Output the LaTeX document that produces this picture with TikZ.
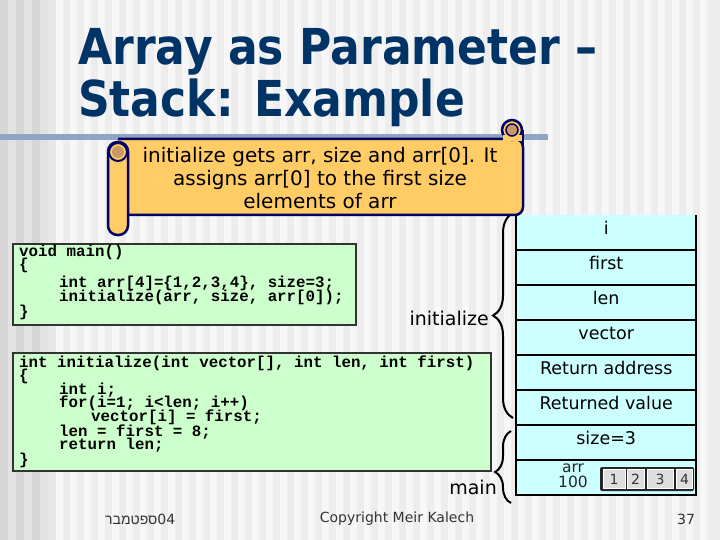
\documentclass[tikz,border=0pt]{standalone}
\usepackage{fontspec}
\setmainfont{DejaVu Sans}
\newfontfamily\codefont{Liberation Mono}
\newfontfamily\hebfont[Script=Hebrew]{Liberation Sans}
\TeXXeTstate=1
\usetikzlibrary{decorations.pathreplacing}
\definecolor{titlec}{HTML}{003366}
\definecolor{scrollfill}{HTML}{FFCC66}
\definecolor{scrolldark}{HTML}{CC9966}
\definecolor{scrollline}{HTML}{000066}
\definecolor{codegreen}{HTML}{CCFFCC}
\definecolor{stackcyan}{HTML}{CCFFFF}
\definecolor{barc}{HTML}{8FA5C2}
\definecolor{footc}{HTML}{333333}
\tikzset{
  titletext/.style={anchor=base west, inner sep=0, text=titlec, font=\bfseries\fontsize{49.5}{52}\selectfont},
  codebox/.style={draw=black!80, line width=1.5pt, fill=codegreen, anchor=north west, inner sep=0},
  code/.style={anchor=base west, inner sep=0, text height=9pt, text depth=2pt,
    font=\codefont\bfseries\fontsize{15.8}{16}\selectfont},
  cell/.style={fill=stackcyan, minimum width=180pt, minimum height=35pt, anchor=north west, inner sep=0,
    text height=8pt, text depth=4pt, font=\fontsize{17.5}{20}\selectfont},
  arrcell/.style={fill=black!13, draw=white, line width=0.6pt, minimum width=20pt, minimum height=19pt, inner sep=0,
    font=\fontsize{14}{16}\selectfont, text=black!80},
  bracedeco/.style={decorate, decoration={brace, amplitude=20pt}, line width=2pt},
  foot/.style={inner sep=0, text=footc, font=\fontsize{14}{16}\selectfont},
  scroll/.style={fill=scrollfill, draw=scrollline, line width=2.5pt},
}
\begin{document}
\begin{tikzpicture}[x=1pt,y=-1pt]
\useasboundingbox (0,0) rectangle (720,540);
% background
\fill[black!7] (0,0) rectangle (720,540);
\foreach \x in {0,16,32} \fill[black!16] (\x,0) rectangle ++(8,540);
\foreach \x in {8,24,40} \fill[black!11] (\x,0) rectangle ++(8,540);
\fill[black!9] (48,0) rectangle ++(8,540);
\foreach \x in {56,70,...,712} \fill[black!3] (\x,0) rectangle ++(7,540);
% title
\node[titletext] (t1) at (78,65) {\scalebox{0.89}[1]{Array as Parameter –}};
\node[titletext] (t2) at (78,117) {\scalebox{0.89}[1]{Stack: Example}};
\fill[barc] (0,134) rectangle (548,140);

% code boxes
\node[codebox, minimum width=343pt, minimum height=81pt] (mainbox) at (12,243) {};
\node[code] (m1) at (19,256) {void main()};
\node[code] (m2) at (19,269) {\{};
\node[code] (m3) at (59,287) {int arr[4]=\{1,2,3,4\}, size=3;};
\node[code] (m4) at (59,301) {initialize(arr, size, arr[0]);};
\node[code] (m5) at (19,316) {\}};

\node[codebox, minimum width=478pt, minimum height=118pt] (initbox) at (12,352) {};
\node[code] (f1) at (19,367) {int initialize(int vector[], int len, int first)};
\node[code] (f2) at (19,380) {\{};
\node[code] (f3) at (59,394) {int i;};
\node[code] (f4) at (59,407) {for(i=1; i<len; i++)};
\node[code] (f5) at (91,421) {vector[i] = first;};
\node[code] (f6) at (59,436) {len = first = 8;};
\node[code] (f7) at (59,449) {return len;};
\node[code] (f8) at (19,464) {\}};

% stack
\node[cell] (s1) at (516,215) {i};
\node[cell] (s2) at (516,250) {first};
\node[cell] (s3) at (516,285) {len};
\node[cell] (s4) at (516,320) {vector};
\node[cell] (s5) at (516,355) {Return address};
\node[cell] (s6) at (516,390) {Returned value};
\node[cell] (s7) at (516,425) {size=3};
\node[cell] (s8) at (516,460) {};
\draw[line width=2pt] (s1.north west) -- (s8.south west) -- (s8.south east) -- (s1.north east);
\foreach \n in {s2,s3,s4,s5,s6,s7,s8} \draw[line width=2pt] (\n.north west) -- (\n.north east);
\node[inner sep=0, align=center, font=\fontsize{15.5}{14.5}\selectfont, text=black!85] (arrlbl) at (573,476) {arr\\100};
\node[fill=black!85, rounded corners=2pt, minimum width=94pt, minimum height=24pt, inner sep=0] (arrbox) at (647,479) {};
\node[arrcell, minimum width=22pt] (a1) at (614,479) {1};
\node[arrcell, minimum width=17pt] (a2) at (635.5,479) {2};
\node[arrcell, minimum width=26pt] (a3) at (660,479) {3};
\node[arrcell, minimum width=16pt] (a4) at (684.5,479) {4};

% braces
\coordinate (ib1) at (513,418);
\coordinate (ib2) at (513,213);
\draw[bracedeco] (ib1) -- (ib2);
\coordinate (mb1) at (511,503);
\coordinate (mb2) at (511,431);
\draw[bracedeco, decoration={brace, amplitude=16pt, aspect=0.43}] (mb1) -- (mb2);
\node[anchor=east, inner sep=0, font=\fontsize{19}{22}\selectfont] (initlbl) at (489,318) {initialize};
\node[anchor=east, inner sep=0, font=\fontsize{19}{22}\selectfont] (mainlbl) at (497,487) {main};

% scroll callout
\draw[scroll, rounded corners=8pt] (118,139) -- (523,139) -- (523,215) -- (118,215);
\draw[scroll] (512,130) circle (10);
\fill[scrollfill] (503,135) rectangle (521.5,141);
\draw[scrollline, line width=2.5pt] (523,130) -- (523,145);
\fill[scrolldark, draw=scrollline, line width=1.5pt] (512,130) circle (6);
\draw[scroll, rounded corners=9.5pt] (108,142) rectangle (128,235);
\fill[scrolldark] (118,152) circle (6);
\draw[scrollline, line width=2pt] (118,152) circle (9);
\node[align=center, inner sep=0, font=\fontsize{20}{23}\selectfont] (ct) at (320,178)
  {initialize gets arr, size and arr[0]. It\\assigns arr[0] to the first size\\elements of arr};

% footer
\node[foot, anchor=west] (fdate) at (105,519) {{\hebfont\beginR ספטמבר\endR}04};
\node[foot] (fcopy) at (397,519) {Copyright Meir Kalech};
\node[foot] (fnum) at (686,519) {37};
\end{tikzpicture}
\end{document}
